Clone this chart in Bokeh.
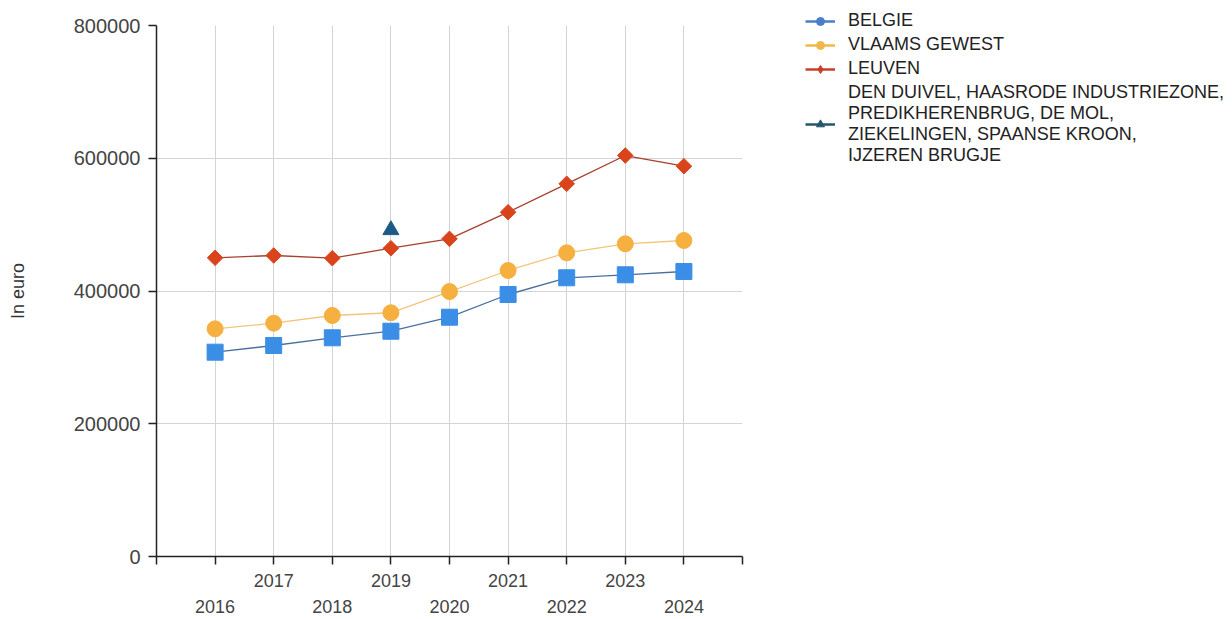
from bokeh.plotting import figure
from bokeh.models import (Range1d, FixedTicker, LinearAxis, Legend, LegendItem,
                          BasicTickFormatter, Grid)
from bokeh.embed import file_html
from bokeh.resources import INLINE

# ---- data ----
years = [2016, 2017, 2018, 2019, 2020, 2021, 2022, 2023, 2024]
belgie = [307800, 317900, 329500, 339400, 360500, 394700, 419900, 424400, 429400]
vlaams = [343000, 351500, 363100, 367200, 399200, 430900, 457500, 471100, 476100]
leuven = [450000, 453500, 449400, 464500, 478600, 518700, 561500, 604100, 588000]
wijk_years = [2019]
wijk = [491900]

name_belgie = "BELGIE"
name_vlaams = "VLAAMS GEWEST"
name_leuven = "LEUVEN"
name_wijk = ("DEN DUIVEL, HAASRODE INDUSTRIEZONE,\nPREDIKHERENBRUG, DE MOL,\n"
             "ZIEKELINGEN, SPAANSE KROON,\nIJZEREN BRUGJE")

axis_years = list(range(2015, 2026))
y_ticks = [0, 200000, 400000, 600000, 800000]
y_title = "In euro"

FONT = "Liberation Sans"
NAN = float("nan")

p = figure(frame_width=586, frame_height=531,
           min_border_left=156, min_border_top=25, min_border_right=490, min_border_bottom=40,
           x_range=Range1d(2015, 2025), y_range=Range1d(0, 800000),
           output_backend="svg", toolbar_location=None, x_axis_type=None)
p.outline_line_color = None

# y axis
ya = p.yaxis[0]
ya.ticker = FixedTicker(ticks=y_ticks)
ya.formatter = BasicTickFormatter(use_scientific=False)
ya.minor_tick_line_color = None
ya.major_tick_out = 8
ya.major_tick_in = 0
ya.axis_line_color = "#222"
ya.axis_line_width = 1.5
ya.major_tick_line_color = "#222"
ya.major_tick_line_width = 1.5
ya.major_label_text_font = FONT
ya.major_label_text_font_size = "20px"
ya.major_label_text_color = "#444"
ya.major_label_standoff = 8
ya.axis_label = y_title
ya.axis_label_text_font = FONT
ya.axis_label_text_font_size = "18px"
ya.axis_label_text_font_style = "normal"
ya.axis_label_text_color = "#333"
ya.axis_label_standoff = 43

# x axes (staggered labels)
xa1 = LinearAxis(ticker=FixedTicker(ticks=axis_years))
xa1.major_label_overrides = {y: (str(y) if y % 2 == 1 and y in years else "") for y in axis_years}
xa1.minor_tick_line_color = None
xa1.major_tick_out = 8
xa1.major_tick_in = 0
xa1.axis_line_color = "#222"
xa1.axis_line_width = 1.5
xa1.major_tick_line_color = "#222"
xa1.major_tick_line_width = 1.5
xa1.major_label_text_font = FONT
xa1.major_label_text_font_size = "18px"
xa1.major_label_text_color = "#444"
xa1.major_label_standoff = 9
p.add_layout(xa1, "below")

xa2 = LinearAxis(ticker=FixedTicker(ticks=axis_years))
xa2.major_label_overrides = {y: (str(y) if y % 2 == 0 and y in years else "") for y in axis_years}
xa2.minor_tick_line_color = None
xa2.major_tick_out = 0
xa2.major_tick_in = 0
xa2.axis_line_color = None
xa2.major_tick_line_color = None
xa2.major_label_text_font = FONT
xa2.major_label_text_font_size = "18px"
xa2.major_label_text_color = "#444"
xa2.major_label_standoff = 10
p.add_layout(xa2, "below")

# grids
p.ygrid.ticker = FixedTicker(ticks=y_ticks)
p.ygrid.grid_line_color = "#d4d4d4"
p.add_layout(Grid(dimension=0, ticker=FixedTicker(ticks=axis_years[1:]),
                  grid_line_color="#d4d4d4"))

# series
c_bel, c_vla, c_leu, c_wijk = "#3a8ee6", "#f5b040", "#d9441c", "#1a5a85"
p.line(years, belgie, line_color="#4a6f9e", line_width=1.3)
p.scatter(years, belgie, marker="square", size=16, fill_color=c_bel, line_color=c_bel)
p.line(years, vlaams, line_color="#f3c57a", line_width=1.3)
p.scatter(years, vlaams, marker="circle", size=16, fill_color=c_vla, line_color=c_vla)
p.line(years, leuven, line_color="#a8402e", line_width=1.3)
p.scatter(years, leuven, marker="square", size=11, angle=0.785398,
          fill_color=c_leu, line_color=c_leu)
p.scatter(wijk_years, wijk, marker="triangle", size=16, fill_color=c_wijk, line_color=c_wijk)

# legend-only glyphs (NaN data, nothing drawn in the plot)
def leg(color, marker):
    ln = p.line([NAN, NAN], [NAN, NAN], line_color=color, line_width=2.5)
    mk = p.scatter([NAN], [NAN], marker=marker, fill_color=color, line_color=color)
    return [ln, mk]

legend = Legend(items=[
    LegendItem(label=name_belgie, renderers=leg("#4a7fc8", "circle")),
    LegendItem(label=name_vlaams, renderers=leg("#f0b848", "circle")),
    LegendItem(label=name_leuven, renderers=leg("#c8402a", "diamond")),
    LegendItem(label=name_wijk, renderers=leg("#24566e", "triangle")),
], location=(63, 390))
legend.glyph_width = 30
legend.glyph_height = 20
legend.label_height = 20
legend.label_standoff = 13
legend.spacing = 3
legend.padding = 0
legend.margin = 0
legend.border_line_color = None
legend.background_fill_alpha = 0
legend.label_text_font = FONT
legend.label_text_font_size = "18px"
legend.label_text_color = "#222"
legend.label_text_line_height = 0.8
p.add_layout(legend, "right")

open("out.html", "w").write(file_html(p, INLINE))
